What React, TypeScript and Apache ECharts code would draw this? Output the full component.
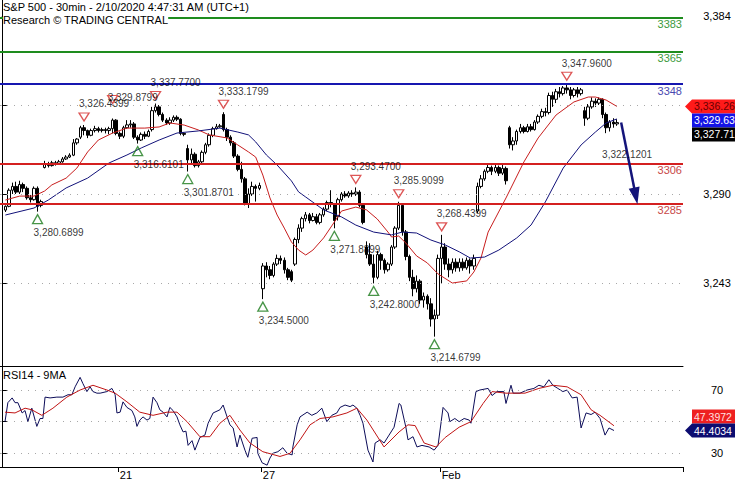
import React, { useEffect, useRef } from "react";
import * as echarts from "echarts";

// ---------------- data ----------------
const categoryCount = 191;
const firstBar = 1;
const dayTickIdx = [33, 73, 123];
const dayTickText = ["21", "27", "Feb"];

const opens = [
  3281.5, 3283.5, 3292, 3294, 3291, 3295, 3293, 3288, 3287, 3293,
  3284, 3304, 3306, 3305, 3306.5, 3306, 3307, 3308.5, 3309.5, 3310.5,
  3317, 3320, 3325, 3323.5, 3321, 3323.5, 3324.5, 3323.5, 3324, 3323.5,
  3324.5, 3329, 3322, 3320.5, 3325, 3326.5, 3327, 3320, 3318.5, 3321.5,
  3320.5, 3324, 3334, 3336, 3332, 3329, 3327.5, 3329, 3330.5, 3329.5,
  3322, 3314, 3308, 3311, 3305, 3307, 3312, 3316, 3321, 3324.5,
  3325.5, 3332, 3324, 3320, 3317, 3310, 3303, 3298, 3285, 3290,
  3294, 3293, 3240, 3252, 3250, 3247, 3253, 3256, 3255, 3250,
  3249, 3253, 3266, 3272, 3277, 3279, 3276, 3278, 3275, 3279,
  3282, 3285.5, 3284.5, 3278, 3287, 3290, 3289, 3290.5, 3290, 3291,
  3284, 3262, 3258, 3253, 3246, 3258, 3255, 3250, 3253, 3262,
  3272, 3284, 3270, 3257, 3246, 3240, 3244, 3234, 3236, 3232,
  3224, 3226, 3256, 3262, 3253, 3250, 3254, 3251, 3254, 3251,
  3255, 3252, 3281, 3294, 3298, 3302, 3304, 3302, 3304, 3301,
  3303.5, 3325, 3316, 3318, 3323, 3325, 3323, 3325.5, 3324, 3328,
  3331, 3333.5, 3333, 3342, 3340, 3344, 3343, 3346, 3345, 3342,
  3345, 3343, 3334, 3330, 3336, 3339, 3338, 3340, 3332, 3325,
  3328, 3327,
];
const highs = [
  3284, 3293, 3296, 3296.5, 3297, 3296, 3294, 3289.5, 3294, 3294,
  3287, 3307.5, 3307, 3307.5, 3307.5, 3308, 3309.5, 3310.5, 3311.5, 3319,
  3319.5, 3326, 3326.4399, 3324, 3324.5, 3326, 3325.5, 3325, 3325, 3325.5,
  3329.8799, 3329.5, 3323, 3326, 3329, 3329, 3328, 3321, 3322.5, 3323,
  3324, 3336, 3337.77, 3337, 3333, 3330, 3330.5, 3331.5, 3331.5, 3330,
  3322.5, 3316, 3314, 3312, 3308, 3313, 3317, 3322, 3325.5, 3327,
  3327, 3333.1799, 3325, 3321, 3318, 3311, 3307, 3299, 3293, 3296.5,
  3295, 3296, 3253.5, 3254, 3252, 3254, 3258, 3257.5, 3256.5, 3251,
  3250, 3267, 3274, 3278, 3280.5, 3280, 3280, 3279.5, 3280, 3283,
  3286.5, 3292, 3285, 3288, 3291, 3291.5, 3291.5, 3292, 3293.47, 3292,
  3285, 3265, 3264, 3258, 3260, 3259, 3256, 3254, 3263, 3273,
  3285.9099, 3285, 3271, 3258, 3250, 3247, 3245, 3238, 3237, 3235,
  3229, 3258, 3268.4399, 3264, 3256, 3256, 3256, 3256, 3256, 3256.5,
  3256, 3258, 3296, 3300, 3303, 3305.5, 3305, 3305.5, 3305, 3305.5,
  3304.5, 3326, 3320, 3324, 3327, 3326, 3327, 3327, 3329, 3332,
  3335, 3335.5, 3343.5, 3344, 3345.5, 3346.5, 3347, 3347.96, 3346.5, 3346,
  3346.5, 3346, 3336, 3337.5, 3341, 3340.5, 3341, 3340.5, 3333, 3329,
  3330, 3329.5,
];
const lows = [
  3280.5, 3283, 3290, 3290, 3290, 3291, 3287, 3285.5, 3286.5, 3280.6899,
  3283, 3303.5, 3304, 3304.5, 3305, 3305.5, 3306.5, 3308, 3309, 3310,
  3316, 3319, 3321, 3319.5, 3320.5, 3322.5, 3322.5, 3322.5, 3322, 3321.5,
  3322, 3321, 3319, 3319.5, 3324.5, 3325, 3319, 3316.6101, 3318, 3319,
  3320, 3323, 3333, 3331, 3328, 3326.5, 3326.5, 3328, 3328.5, 3321,
  3320.5, 3301.8701, 3306, 3304, 3304, 3306, 3311, 3315, 3320, 3324,
  3325, 3323, 3318, 3315.5, 3309, 3302, 3296, 3284, 3282.6, 3289,
  3286, 3292, 3234.5, 3246, 3245, 3246, 3252, 3253, 3248, 3244.5,
  3243.5, 3252, 3264, 3270, 3275.5, 3274.5, 3275.5, 3274, 3274, 3278,
  3281, 3283, 3271.8899, 3276, 3286, 3288, 3288, 3288.5, 3289, 3283,
  3274, 3256, 3252, 3242.8, 3245, 3250, 3248, 3249, 3252, 3261,
  3271, 3268, 3255, 3244, 3236, 3238, 3232, 3230, 3229, 3220,
  3214.6799, 3224, 3243, 3250, 3246, 3248, 3249, 3249, 3249.5, 3250,
  3248, 3250, 3280, 3293, 3297, 3301, 3300, 3301, 3299.5, 3300,
  3295, 3314, 3313, 3316, 3322, 3322, 3322.5, 3323, 3323.5, 3327,
  3330, 3331, 3332, 3336, 3338, 3341, 3342, 3343, 3340, 3341,
  3341, 3342, 3326, 3329, 3335, 3336, 3337, 3330, 3322.1201, 3323,
  3325, 3326,
];
const closes = [
  3283.5, 3292, 3294, 3291, 3295, 3293, 3288, 3287, 3293, 3283.5,
  3286, 3306, 3305, 3306.5, 3306, 3307, 3308.5, 3309.5, 3310.5, 3317,
  3319, 3325, 3323.5, 3321, 3323.5, 3324.5, 3323.5, 3324, 3323.5, 3324.5,
  3329, 3322, 3320.5, 3325, 3326.5, 3327, 3320, 3318.5, 3321.5, 3320.5,
  3323, 3334, 3336, 3332, 3329, 3327.5, 3329, 3330.5, 3329.5, 3322,
  3321.5, 3308, 3311, 3305, 3307, 3312, 3316, 3321, 3324.5, 3325.5,
  3326, 3324, 3320, 3317, 3310, 3303, 3298, 3285, 3290, 3294,
  3293, 3294.5, 3252, 3250, 3247, 3253, 3256, 3255, 3250, 3246,
  3244.5, 3266, 3272, 3277, 3279, 3276, 3278, 3275, 3279, 3282,
  3285.5, 3284.5, 3276, 3287, 3290, 3289, 3290.5, 3290, 3291, 3284,
  3275, 3258, 3253, 3246, 3258, 3255, 3250, 3253, 3262, 3272,
  3284, 3270, 3257, 3246, 3240, 3244, 3234, 3236, 3232, 3224,
  3226, 3256, 3262, 3253, 3250, 3254, 3251, 3254, 3251, 3255,
  3252, 3256, 3294, 3298, 3302, 3304, 3302, 3304, 3301, 3303.5,
  3297, 3316, 3318, 3323, 3325, 3323, 3325.5, 3324, 3328, 3331,
  3333.5, 3333, 3342, 3340, 3344, 3343, 3346, 3345, 3342, 3345,
  3343, 3345, 3330, 3336, 3339, 3338, 3340, 3332, 3325, 3328,
  3327, 3327.71,
];

const maRedIdx = [1, 5, 9, 12, 14, 18, 21, 24, 27, 31, 35, 40, 44, 47, 51, 55, 58, 63, 66, 69, 71, 73, 75, 77, 79, 81, 83, 85, 87, 90, 93, 95, 99, 102, 105, 108, 109, 111, 113, 116, 119, 122, 126, 130, 132, 134, 136, 141, 146, 150, 155, 160, 164, 166, 169, 172];
const maRedVal = [3286.8, 3288.9, 3288.9, 3291.6, 3294.8, 3298.4, 3303.7, 3312.2, 3318.5, 3322.2, 3324.8, 3324.8, 3325.4, 3327.5, 3326.4, 3323.8, 3321.2, 3319.6, 3315.9, 3312.2, 3309.5, 3300.0, 3287.9, 3278.9, 3272.0, 3264.7, 3260.4, 3257.8, 3260.4, 3266.8, 3275.2, 3281.0, 3283.1, 3281.6, 3276.8, 3269.9, 3267.3, 3267.8, 3264.1, 3257.3, 3253.6, 3247.8, 3243.0, 3244.1, 3248.8, 3256.2, 3269.9, 3287.9, 3306.9, 3319.6, 3331.7, 3338.6, 3341.2, 3341.2, 3339.6, 3336.26];
const maBlueIdx = [1, 9, 13, 18, 24, 30, 35, 39, 44, 49, 55, 61, 66, 69, 71, 74, 77, 81, 83, 85, 90, 95, 99, 104, 109, 112, 116, 120, 124, 128, 131, 135, 139, 144, 148, 152, 157, 162, 166, 169, 172];
const maBlueVal = [3278.9, 3282.6, 3286.8, 3293.2, 3298.4, 3306.4, 3310.6, 3314.3, 3318.5, 3322.2, 3323.3, 3324.8, 3322.7, 3321.2, 3317.5, 3310.6, 3305.3, 3296.9, 3291.1, 3288.4, 3281.6, 3277.9, 3273.6, 3269.9, 3268.4, 3269.9, 3269.4, 3265.7, 3263.1, 3259.4, 3256.2, 3256.7, 3260.4, 3266.8, 3273.6, 3285.8, 3303.7, 3315.9, 3322.7, 3327.5, 3329.63];

const peakIdx = [23, 31, 43, 62, 99, 111, 123, 158];
const peakVal = [3326.4399, 3329.8799, 3337.77, 3333.1799, 3293.47, 3285.9099, 3268.4399, 3347.96];
const troughIdx = [10, 38, 52, 73, 93, 104, 121];
const troughVal = [3280.6899, 3316.6101, 3301.8701, 3234.5, 3271.8899, 3242.8, 3214.6799];
const lastLowIdx = [169];
const lastLowVal = [3322.1201];

const levelVals = [3383, 3365, 3348, 3306, 3285];
const priceTicks = [3243, 3290, 3337, 3384];
const priceTickLabels = [3243, 3290, 3384];
const priceGridVals = [3243, 3290, 3337];
const arrowFrom = [173.2, 3327.71];
const arrowTo = [177.3, 3289];

const priceTagVals = [3336.26, 3329.63, 3327.71];
const rsiTagVals = [47.3972, 44.4034];

const rsiX = [0.9, 1.7, 2.9, 3.7, 4.5, 5.7, 6.5, 7.3, 8.4, 9.8, 10.7, 11.5, 12.1, 13.5, 15.4, 17.1, 18.5, 19.6, 20.5, 21.9, 22.7, 23.8, 24.7, 25.5, 26.6, 27.5, 29.4, 30.8, 31.7, 32.2, 33.1, 33.9, 35.0, 36.4, 37.2, 37.8, 38.6, 39.5, 40.6, 41.4, 42.3, 43.4, 44.2, 45.1, 46.2, 47.0, 47.9, 49.0, 49.8, 50.7, 51.5, 52.1, 53.2, 54.0, 55.4, 56.8, 57.7, 59.1, 61.0, 61.9, 63.0, 63.8, 64.7, 65.8, 66.6, 68.0, 68.8, 70.0, 71.4, 71.6, 72.8, 74.2, 75.0, 75.8, 77.2, 78.6, 79.8, 81.2, 81.4, 82.6, 83.4, 85.4, 86.7, 88.1, 89.5, 90.9, 92.3, 93.7, 94.6, 96.0, 97.4, 98.2, 99.3, 100.2, 101.0, 102.4, 103.8, 104.4, 105.8, 106.9, 108.3, 109.7, 111.1, 111.6, 113.0, 113.6, 115.0, 116.1, 117.5, 119.5, 120.9, 122.0, 123.4, 124.8, 125.3, 126.7, 127.9, 129.3, 130.7, 131.2, 132.6, 133.7, 136.0, 137.1, 138.5, 140.4, 141.0, 142.4, 143.0, 144.9, 146.9, 148.8, 150.2, 151.6, 153.0, 154.1, 155.5, 156.9, 158.1, 159.5, 160.9, 162.0, 163.4, 164.8, 165.9, 167.3, 168.7, 169.8, 171.2];
const rsiY = [50, 62, 65, 62, 62, 55.5, 57, 50, 58.5, 47, 52, 52, 65.5, 65, 65.5, 65.5, 67, 67, 72, 78, 74, 69, 72, 69, 68, 68, 69, 71, 67, 55.5, 56, 62.5, 59, 57, 53, 47, 51, 53, 51, 52, 65.5, 62, 57.5, 56, 53, 59, 57, 53, 48, 43.5, 44, 35, 38, 32, 40, 41.5, 49, 55.5, 57.5, 60.5, 53, 48, 46, 34, 41.5, 32, 27.5, 39.5, 40, 30, 24, 22.5, 27, 30, 31, 33.5, 30, 29, 34, 48, 53, 56, 54, 55.5, 58.5, 50, 54, 55.5, 59, 60.5, 59.5, 60.5, 58.5, 54, 49, 32, 24.5, 36.5, 38.5, 36.5, 41.5, 46.5, 61.5, 60.5, 46.5, 38.5, 40.5, 34, 35, 34, 32, 35, 59, 55.5, 50, 52, 50, 52, 51, 49, 69, 70, 71, 66.5, 69, 69, 61.5, 73, 68, 68, 70, 71, 73, 72, 76.5, 73, 71, 69, 70, 65, 65.5, 46, 55.5, 54.5, 56, 52, 41.5, 46, 44.4034];
const rsiMaX = [0.9, 3.7, 6.5, 8.4, 11.2, 14.3, 18.2, 21.9, 25.5, 29.4, 31.7, 35.0, 38.6, 42.3, 46.2, 49.0, 51.8, 55.4, 58.2, 61.0, 63.8, 66.6, 69.4, 73.0, 77.8, 80.6, 83.4, 86.2, 89.0, 92.6, 96.5, 99.3, 102.1, 106.9, 111.1, 113.6, 115.6, 118.1, 121.4, 124.0, 127.9, 131.2, 134.6, 137.1, 141.0, 146.3, 150.2, 154.1, 158.1, 162.0, 164.8, 167.3, 171.2];
const rsiMaY = [56, 55.5, 58.5, 57.5, 54, 58.5, 65.5, 70, 73, 70, 68, 62.5, 56, 54, 56, 56, 50, 40.5, 40.5, 49, 54, 44.7, 36.5, 31, 28, 30, 38.5, 48, 52, 53, 55.5, 58.5, 51, 34, 43.5, 48, 47.5, 36.5, 34, 40, 46.5, 50, 61.5, 69, 68, 68, 71, 73, 72, 67, 57.5, 54, 47.3972];
const rsiTicks = [30, 50, 70];
const rsiTickLabels = [30, 70];
const rsiGridVals = [30, 50, 70];

// ---------------- styles ----------------
const FONT = "Liberation Sans, Arial, sans-serif";
const levelColors = ["#1e8c1e", "#1e8c1e", "#1616b0", "#d42020", "#d42020"];
const levelLabelColors = ["#3d9a3d", "#3d9a3d", "#4a4ab0", "#c84848", "#c84848"];
const peakLift = [0, 11, 0, 0, 0, 0, 0, 0];
const priceTagStyle = [
  { bg: "#ff1a1a", fg: "#6a0000", arrow: true },
  { bg: "#1414e6", fg: "#ffffff", arrow: false },
  { bg: "#000000", fg: "#ffffff", arrow: false },
];
const rsiTagStyle = [
  { bg: "#ee2020", fg: "#ffe0e0", arrow: false },
  { bg: "#0c0c70", fg: "#ffffff", arrow: true },
];

const fmt = (v: number, d: number) => {
  const [i, f] = v.toFixed(d).split(".");
  return i.replace(/\B(?=(\d{3})+(?!\d))/g, ",") + (f ? "." + f : "");
};

const GRID_W = 683;
const priceMin = 3199.19;
const priceMax = 3392.43;
const rsiMin = 21.34;
const rsiMax = 85.17;

function buildOption() {
  const cats = Array.from({ length: categoryCount }, (_, i) => "c" + i);
  const isDay = (i: number) => dayTickIdx.indexOf(i) >= 0;
  const gridMark = (vals: number[]) => vals.map((v) => ({
    yAxis: v,
    lineStyle: { color: "#a8a8a8", width: 1, type: [1, 6] },
    label: { show: false },
  }));

  return {
    animation: false,
    textStyle: { fontFamily: FONT },
    grid: [
      { left: 0, top: 0, width: GRID_W, height: 366, outerBoundsMode: "none" },
      { left: 0, top: 366, width: GRID_W, height: 101, outerBoundsMode: "none" },
    ],
    xAxis: [
      {
        type: "category", gridIndex: 0, data: cats, boundaryGap: true,
        axisLine: { show: true, lineStyle: { color: "#000", width: 1 } },
        axisTick: { show: false }, axisLabel: { show: false }, splitLine: { show: false },
      },
      { type: "value", gridIndex: 0, min: -0.5, max: categoryCount - 0.5, show: false },
      {
        type: "category", gridIndex: 1, data: cats, boundaryGap: true,
        axisLine: { show: true, lineStyle: { color: "#000", width: 1 } },
        axisTick: { show: true, interval: (i: number) => isDay(i), length: 5, lineStyle: { color: "#000" } },
        axisLabel: {
          show: true, interval: (i: number) => isDay(i),
          formatter: (_v: string, i: number) => (isDay(i) ? dayTickText[dayTickIdx.indexOf(i)] : ""),
          align: "left", margin: 2, fontSize: 11, lineHeight: 11, color: "#000", fontFamily: FONT,
        },
        splitLine: { show: false },
      },
      { type: "value", gridIndex: 1, min: -0.5, max: categoryCount - 0.5, show: false },
    ],
    yAxis: [
      {
        type: "value", gridIndex: 0, position: "right", min: priceMin, max: priceMax,
        axisLine: { show: true, lineStyle: { color: "#000", width: 1 } },
        axisTick: { show: true, customValues: priceTicks, length: 5, lineStyle: { color: "#000" } },
        axisLabel: {
          show: true, customValues: priceTickLabels, formatter: (v: number) => fmt(v, 0),
          align: "center", margin: 34, fontSize: 11, color: "#000", fontFamily: FONT,
        },
        splitLine: { show: false },
      },
      {
        type: "value", gridIndex: 1, position: "right", min: rsiMin, max: rsiMax,
        axisLine: { show: true, lineStyle: { color: "#000", width: 1 } },
        axisTick: { show: true, customValues: rsiTicks, length: 5, lineStyle: { color: "#000" } },
        axisLabel: {
          show: true, customValues: rsiTickLabels, formatter: (v: number) => String(v),
          align: "center", margin: 34, fontSize: 11, color: "#000", fontFamily: FONT,
        },
        splitLine: { show: false },
      },
    ],
    series: [
      {
        type: "candlestick", xAxisIndex: 0, yAxisIndex: 0,
        data: opens.map((o, k) => [firstBar + k, o, closes[k], lows[k], highs[k]]),
        encode: { x: 0, y: [1, 2, 3, 4] },
        barWidth: 3,
        itemStyle: { color: "#ffffff", color0: "#000000", borderColor: "#000000", borderColor0: "#000000", borderWidth: 1 },
        silent: true,
        markLine: {
          symbol: "none", silent: true,
          data: [
            ...gridMark(priceGridVals),
            ...levelVals.map((v, k) => ({
              yAxis: v,
              lineStyle: { color: levelColors[k], width: 2, type: "solid" },
              label: {
                show: true, position: "insideEndBottom", formatter: String(v),
                color: levelLabelColors[k], fontSize: 11, fontFamily: FONT, distance: [1, 1],
              },
            })),
          ],
        },
      },
      {
        type: "line", xAxisIndex: 1, yAxisIndex: 0, symbol: "none", silent: true,
        data: maRedIdx.map((x, k) => [x, maRedVal[k]]),
        lineStyle: { color: "#c81e1e", width: 1 },
      },
      {
        type: "line", xAxisIndex: 1, yAxisIndex: 0, symbol: "none", silent: true,
        data: maBlueIdx.map((x, k) => [x, maBlueVal[k]]),
        lineStyle: { color: "#12127a", width: 1 },
        markLine: {
          silent: true, symbol: ["none", "triangle"], symbolSize: [11, 17],
          lineStyle: { color: "#14147a", width: 2.5, type: "solid" },
          label: { show: false },
          data: [[{ coord: arrowFrom }, { coord: arrowTo }]],
        },
      },
      {
        type: "scatter", xAxisIndex: 0, yAxisIndex: 0, silent: true, z: 5,
        symbol: "triangle", symbolRotate: 180, symbolSize: [10, 8],
        itemStyle: { color: "rgba(255,255,255,0)", borderColor: "#d42a2a", borderWidth: 1.3 },
        data: peakIdx.map((x, k) => ({ value: [x, peakVal[k]], symbolOffset: [0, -(8 + peakLift[k])] })),
      },
      {
        type: "scatter", xAxisIndex: 0, yAxisIndex: 0, silent: true, z: 5,
        symbol: "triangle", symbolSize: [10, 9],
        itemStyle: { color: "rgba(255,255,255,0)", borderColor: "#1a7a1a", borderWidth: 1.3 },
        data: troughIdx.map((x, k) => ({ value: [x, troughVal[k]], symbolOffset: [0, 7.5] })),
      },
      {
        type: "scatter", xAxisIndex: 0, yAxisIndex: 0, silent: true, z: 6,
        symbol: "circle", symbolSize: 1, itemStyle: { color: "rgba(0,0,0,0)" },
        data: peakIdx.map((x, k) => [x, peakVal[k]]),
        label: {
          show: true, position: "inside", align: "left", verticalAlign: "middle", offset: [-5, -21],
          formatter: (p: any) => fmt(p.value[1], 4), color: "#000", fontSize: 10, fontFamily: FONT,
        },
      },
      {
        type: "scatter", xAxisIndex: 0, yAxisIndex: 0, silent: true, z: 6,
        symbol: "circle", symbolSize: 1, itemStyle: { color: "rgba(0,0,0,0)" },
        data: [...troughIdx.map((x, k) => [x, troughVal[k]]), ...lastLowIdx.map((x, k) => [x, lastLowVal[k]])],
        label: {
          show: true, position: "inside", align: "left", verticalAlign: "middle", offset: [-4, 21],
          formatter: (p: any) => fmt(p.value[1], 4), color: "#000", fontSize: 10, fontFamily: FONT,
        },
      },
      {
        type: "line", xAxisIndex: 3, yAxisIndex: 1, symbol: "none", silent: true,
        data: rsiX.map((x, k) => [x, rsiY[k]]),
        lineStyle: { color: "#0c0c58", width: 1 },
        markLine: { symbol: "none", silent: true, data: gridMark(rsiGridVals) },
      },
      {
        type: "line", xAxisIndex: 3, yAxisIndex: 1, symbol: "none", silent: true,
        data: rsiMaX.map((x, k) => [x, rsiMaY[k]]),
        lineStyle: { color: "#c01414", width: 1 },
      },
    ],
  };
}

function stack(ys: number[], fixedIdx: number, h: number) {
  const order = ys.map((y, i) => ({ y, i })).sort((a, b) => a.y - b.y);
  const f = order.findIndex((o) => o.i === fixedIdx);
  for (let k = f + 1; k < order.length; k++) {
    if (order[k].y - order[k - 1].y < h) order[k].y = order[k - 1].y + h;
  }
  for (let k = f - 1; k >= 0; k--) {
    if (order[k + 1].y - order[k].y < h) order[k].y = order[k + 1].y - h;
  }
  const out = ys.slice();
  order.forEach((o) => (out[o.i] = o.y));
  return out;
}

function tagGraphic(yc: number, text: string, st: { bg: string; fg: string; arrow: boolean }, fontSize: number) {
  const h = 14;
  const shape = st.arrow
    ? { type: "polygon", z: 100, shape: { points: [[685, 0], [692, -h / 2], [740, -h / 2], [740, h / 2], [692, h / 2]] }, style: { fill: st.bg } }
    : { type: "rect", z: 100, shape: { x: 692, y: -h / 2, width: 48, height: h }, style: { fill: st.bg } };
  return {
    type: "group", x: 0, y: yc, z: 100,
    children: [
      shape,
      { type: "text", z: 101, x: 694, y: 0, style: { text, fill: st.fg, fontSize, fontFamily: FONT, align: "left", verticalAlign: "middle" } },
    ],
  };
}

export default function App() {
  const ref = useRef<HTMLDivElement>(null);
  useEffect(() => {
    const chart = echarts.init(ref.current!, null, { renderer: "svg" });
    chart.setOption(buildOption() as any);

    const pY = priceTagVals.map((v) => chart.convertToPixel({ yAxisIndex: 0 } as any, v) as number);
    const rY = rsiTagVals.map((v) => chart.convertToPixel({ yAxisIndex: 1 } as any, v) as number);
    const pS = stack(pY, 0, 14);
    const rS = stack(rY, 1, 14);

    const textStyle = (text: string) => ({ text, fill: "#000", fontSize: 11, fontFamily: FONT, backgroundColor: "#fff" });
    chart.setOption({
      graphic: [
        { type: "text", left: 3, top: 1, z: 90, style: textStyle("S&P 500 - 30min - 2/10/2020 4:47:31 AM (UTC+1)") },
        { type: "text", left: 3, top: 14, z: 90, style: textStyle("Research © TRADING CENTRAL") },
        { type: "text", left: 3, top: 369, z: 90, style: textStyle("RSI14 - 9MA") },
        ...priceTagVals.map((v, k) => tagGraphic(pS[k], fmt(v, 2), priceTagStyle[k], 10.5)),
        ...rsiTagVals.map((v, k) => tagGraphic(rS[k], v.toFixed(4), rsiTagStyle[k], 10.5)),
      ],
    } as any);

    return () => chart.dispose();
  }, []);
  return (
    <div
      ref={ref}
      style={{ position: "fixed", left: 0, top: 0, width: 735, height: 480, background: "#fff" }}
    />
  );
}
